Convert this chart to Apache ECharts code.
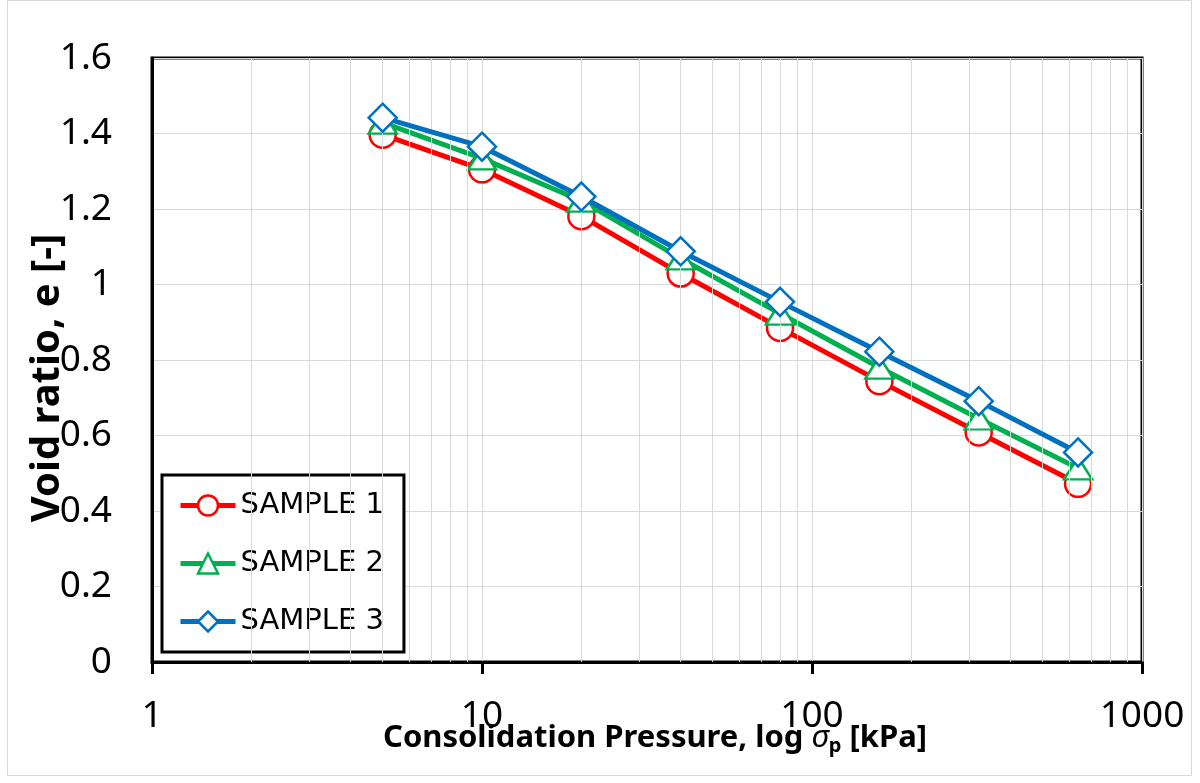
<!DOCTYPE html>
<html><head><meta charset="utf-8">
<script src="https://cdn.jsdelivr.net/npm/echarts@6/dist/echarts.min.js"></script>
<style>html,body{margin:0;padding:0;background:#fff}#c{width:1200px;height:783px}</style>
</head><body><div id="c"></div>
<script>
const pressures = [5, 10, 20, 40, 80, 160, 320, 640];
const sample1 = [1.397, 1.305, 1.181, 1.029, 0.885, 0.744, 0.608, 0.472];
const sample2 = [1.429, 1.334, 1.222, 1.069, 0.923, 0.780, 0.645, 0.513];
const sample3 = [1.442, 1.365, 1.233, 1.088, 0.954, 0.822, 0.691, 0.555];
const seriesNames = ['SAMPLE 1', 'SAMPLE 2', 'SAMPLE 3'];
const minorTicks = [2,3,4,5,6,7,8,9,20,30,40,50,60,70,80,90,200,300,400,500,600,700,800,900];

const FONT = '"Noto Sans", "Open Sans", sans-serif';
const chart = echarts.init(document.getElementById('c'), null, {renderer: 'canvas'});
const pairs = arr => pressures.map((p, i) => [p, arr[i]]);

function mkSeries(name, data, color, symbol, size, z) {
  return {
    name, type: 'line', data: pairs(data), z,
    symbol, symbolSize: size, showSymbol: true,
    lineStyle: {color, width: 5},
    itemStyle: {color: '#fff', borderColor: color, borderWidth: 2.5},
    emphasis: {disabled: true}, animation: false
  };
}

chart.setOption({
  animation: false,
  textStyle: {fontFamily: FONT},
  grid: {left: 152, right: 58, top: 58, bottom: 121, show: true, borderColor: '#000', borderWidth: 3, backgroundColor: 'transparent'},
  xAxis: {
    type: 'log', logBase: 10, min: 1, max: 1000,
    axisLine: {show: true, lineStyle: {color: '#000', width: 3}},
    axisTick: {show: true, length: 12, lineStyle: {color: '#000', width: 3}},
    axisLabel: {color: '#000', fontSize: 37, fontFamily: FONT, margin: 36, formatter: v => String(v)},
    splitLine: {show: true, lineStyle: {color: '#d9d9d9', width: 1}},
    minorTick: {show: false}, minorSplitLine: {show: false}
  },
  yAxis: {
    type: 'value', min: 0, max: 1.6, interval: 0.2,
    axisLine: {show: true, lineStyle: {color: '#000', width: 3}},
    axisTick: {show: false},
    axisLabel: {color: '#000', fontSize: 37, fontFamily: FONT, margin: 40},
    splitLine: {show: true, lineStyle: {color: '#d9d9d9', width: 1}}
  },
  legend: {
    orient: 'vertical', left: 162, top: 475,
    data: seriesNames,
    itemWidth: 55, itemHeight: 25, itemGap: 29,
    padding: [16, 20, 16, 16],
    borderColor: '#000', borderWidth: 3, backgroundColor: '#fff',
    lineStyle: {width: 5},
    itemStyle: {borderWidth: 2.5},
    textStyle: {color: '#000', fontSize: 29, fontFamily: '"DejaVu Sans", sans-serif'},
    selectedMode: false
  },
  series: [
    {type: 'line', data: [], silent: true, z: 1,
     markLine: {silent: true, symbol: ['none', 'none'], label: {show: false}, animation: false,
       lineStyle: {color: '#d9d9d9', width: 1, type: 'solid'},
       data: minorTicks.map(v => ({xAxis: v}))}},
    mkSeries(seriesNames[0], sample1, '#FF0000', 'circle', 26, 3),
    mkSeries(seriesNames[1], sample2, '#00B050', 'triangle', [28, 22], 4),
    mkSeries(seriesNames[2], sample3, '#0070C0', 'diamond', [28, 28], 5)
  ],
  graphic: [
    {type: 'rect', shape: {x: 7.5, y: 0.5, width: 1184, height: 775}, style: {fill: 'none', stroke: '#d9d9d9', lineWidth: 1}, z: -1, silent: true},
    {type: 'text', x: 655, y: 738, z: 10, style: {
      text: '{b|Consolidation Pressure, log }{s|σ}{p|p}{b| [kPa]}',
      align: 'center', verticalAlign: 'middle',
      rich: {
        b: {fontSize: 31, fontWeight: 'bold', fontFamily: FONT, fill: '#000'},
        s: {fontSize: 31, fontStyle: 'italic', fontFamily: FONT, fill: '#000'},
        p: {fontSize: 20, fontWeight: 'bold', fontFamily: FONT, fill: '#000', padding: [16, 0, 0, 0]}
      }
    }},
    {type: 'text', x: 48, y: 378, rotation: Math.PI / 2, style: {
      text: 'Void ratio, e [-]', align: 'center', verticalAlign: 'middle',
      fontSize: 40, fontWeight: 'bold', fontFamily: FONT, fill: '#000'
    }}
  ]
});
</script></body></html>
